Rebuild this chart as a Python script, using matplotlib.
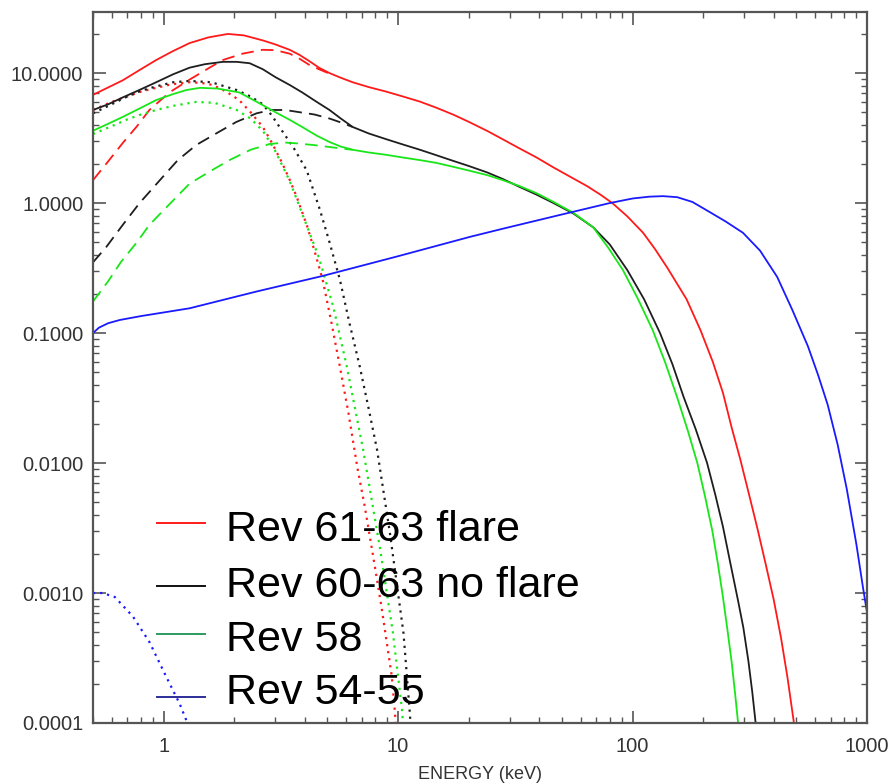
import matplotlib
matplotlib.use("Agg")
import matplotlib.pyplot as plt
from matplotlib.lines import Line2D
from matplotlib.ticker import FixedLocator, NullFormatter, LogLocator

plt.rcParams['font.family'] = ['Liberation Sans', 'DejaVu Sans']

# ---- model spectra (energy in keV, flux) ----
# Rev 61-63 flare: total, comptonised component, disk component
red_tot_e = [0.5, 0.67, 0.8, 0.93, 1.1, 1.29, 1.55, 1.88, 2.2, 2.66, 3.0, 3.45, 3.8, 4.2, 4.6, 5.1, 5.7, 6.4,
             7.5, 8.9, 10.5, 12.4, 14.5, 17.2, 20, 24, 28, 33, 39, 46, 54, 64, 73, 82, 95, 111, 125, 141,
             170, 195, 220, 243, 265, 288, 315, 340, 370, 400, 430, 458, 488, 510]
red_tot_f = [6.8, 8.8, 10.7, 12.6, 14.8, 17.0, 18.8, 20.0, 19.5, 17.8, 16.6, 15.1, 13.8, 12.3, 11.0, 10.0,
             9.2, 8.5, 7.8, 7.2, 6.6, 6.03, 5.43, 4.79, 4.22, 3.59, 3.09, 2.63, 2.24, 1.88, 1.60, 1.35,
             1.16, 1.0, 0.79, 0.59, 0.44, 0.316, 0.182, 0.105, 0.060, 0.0347, 0.0186, 0.0107, 0.0056,
             0.0032, 0.00166, 8.9e-4, 4.5e-4, 2.24e-4, 1.0e-4, 5e-5]
red_comp_e = [0.5, 0.58, 0.67, 0.77, 0.87, 1.06, 1.29, 1.57, 1.79, 2.17, 2.65, 3.0, 3.45, 3.8, 4.2, 4.6, 5.1]
red_comp_f = [1.5, 2.09, 2.9, 3.9, 5.2, 7.1, 8.9, 11.0, 12.6, 14.1, 15.1, 15.0, 14.1, 12.9, 11.5, 10.7, 9.9]
red_disk_e = [0.5, 0.6, 0.7, 0.8, 0.93, 1.05, 1.14, 1.29, 1.45, 1.62, 1.85, 2.1, 2.35, 2.65, 2.9, 3.2, 3.45,
              3.7, 4.1, 4.4, 4.77, 5.2, 5.65, 6.15, 6.7, 7.2, 7.8, 8.5, 9.0, 9.4, 9.7, 9.9]
red_disk_f = [5.2, 6.0, 6.6, 7.2, 7.7, 8.1, 8.3, 8.5, 8.4, 8.1, 7.2, 6.2, 5.0, 3.85, 2.9, 2.04, 1.51, 1.11,
              0.66, 0.43, 0.257, 0.12, 0.055, 0.024, 0.0093, 0.0047, 0.0020, 7.8e-4, 3.9e-4, 2.3e-4,
              1.2e-4, 7e-5]

# Rev 60-63 no flare
blk_tot_e = [0.5, 0.58, 0.67, 0.8, 0.93, 1.1, 1.29, 1.5, 1.79, 2.05, 2.33, 2.65, 3.0, 3.45, 3.9, 4.5, 5.1,
             5.7, 6.4, 7.5, 8.9, 10.5, 12.4, 14.5, 17.2, 20, 24, 28, 33, 39, 46, 56, 68, 80, 95, 112, 131,
             148, 165, 186, 208, 226, 243, 262, 282, 297, 312, 324, 335, 350]
blk_tot_f = [5.2, 5.75, 6.5, 7.5, 8.5, 9.8, 11.0, 11.7, 12.2, 12.2, 11.9, 10.7, 9.3, 8.1, 7.1, 6.0, 5.2,
             4.47, 3.85, 3.43, 3.1, 2.82, 2.57, 2.34, 2.11, 1.93, 1.72, 1.53, 1.33, 1.16, 1.0, 0.83, 0.65,
             0.48, 0.305, 0.182, 0.10, 0.0575, 0.0324, 0.0182, 0.010, 0.0056, 0.00324, 0.00166, 8.7e-4,
             5.4e-4, 3.0e-4, 1.74e-4, 1.0e-4, 5e-5]
blk_comp_e = [0.5, 0.57, 0.67, 0.79, 0.98, 1.15, 1.38, 1.68, 2.04, 2.49, 2.88, 3.3, 3.8, 4.4, 5.1, 5.7, 6.4]
blk_comp_f = [0.35, 0.46, 0.68, 1.0, 1.55, 2.14, 2.8, 3.44, 4.2, 4.9, 5.2, 5.2, 5.0, 4.8, 4.47, 4.17, 3.85]
blk_disk_e = [0.5, 0.6, 0.7, 0.8, 0.93, 1.1, 1.29, 1.6, 2.05, 2.35, 2.65, 2.9, 3.2, 3.6, 4.08, 4.64, 5.1,
              5.65, 6.2, 6.87, 7.5, 8.14, 9.23, 10.55, 11.2, 11.5]
blk_disk_f = [4.9, 5.75, 6.6, 7.3, 7.9, 8.5, 8.7, 8.5, 7.4, 6.6, 5.75, 4.7, 3.6, 2.63, 1.78, 0.89, 0.50,
              0.257, 0.12, 0.055, 0.026, 0.0126, 0.0029, 4.9e-4, 1.26e-4, 6.3e-5]

# Rev 58
grn_tot_e = [0.5, 0.58, 0.67, 0.8, 0.93, 1.1, 1.25, 1.43, 1.7, 2.1, 2.5, 3.0, 3.45, 3.9, 4.5, 5.1, 5.7, 6.4,
             7.5, 8.9, 10.5, 12.4, 14.5, 17.2, 20, 24, 28, 33, 39, 46, 56, 68, 79, 91, 105, 122, 138, 155,
             172, 189, 204, 219, 231, 243, 254, 265, 274, 282, 295]
grn_tot_f = [3.6, 4.07, 4.6, 5.4, 6.2, 6.9, 7.4, 7.7, 7.6, 7.1, 6.0, 5.0, 4.37, 3.85, 3.3, 2.95, 2.72,
             2.57, 2.45, 2.35, 2.24, 2.14, 2.04, 1.9, 1.78, 1.64, 1.50, 1.35, 1.19, 1.02, 0.84, 0.65, 0.45,
             0.305, 0.186, 0.105, 0.059, 0.032, 0.0178, 0.010, 0.0055, 0.0030, 0.0017, 9.3e-4, 5.2e-4,
             2.9e-4, 1.66e-4, 1.0e-4, 5e-5]
grn_comp_e = [0.5, 0.58, 0.66, 0.77, 0.87, 1.03, 1.29, 1.6, 1.91, 2.35, 2.84, 3.3, 3.69, 4.4, 5.1, 5.7, 6.4]
grn_comp_f = [0.175, 0.25, 0.355, 0.50, 0.68, 0.93, 1.41, 1.78, 2.14, 2.57, 2.85, 2.92, 2.88, 2.79, 2.7,
              2.63, 2.57]
grn_disk_e = [0.5, 0.6, 0.7, 0.8, 0.93, 1.1, 1.38, 1.65, 2.05, 2.35, 2.65, 3.0, 3.45, 3.9, 4.6, 5.3, 6.05,
              7.1, 8.4, 9.5, 10.4, 10.7]
grn_disk_f = [3.4, 3.9, 4.4, 4.8, 5.2, 5.6, 6.0, 5.9, 5.2, 4.47, 3.6, 2.5, 1.48, 0.83, 0.38, 0.158, 0.055,
              0.0126, 0.00214, 5e-4, 1.26e-4, 6.3e-5]

# Rev 54-55
blu_tot_e = [0.5, 0.53, 0.58, 0.65, 0.8, 0.93, 1.29, 2.5, 4.77, 10, 20.3, 28, 49, 80, 100, 118, 135, 155,
             180, 214, 250, 296, 350, 414, 480, 560, 620, 680, 750, 820, 900, 960, 1000]
blu_tot_f = [0.10, 0.11, 0.119, 0.126, 0.135, 0.141, 0.155, 0.209, 0.275, 0.39, 0.55, 0.635, 0.81, 1.0,
             1.084, 1.12, 1.13, 1.11, 1.02, 0.85, 0.72, 0.59, 0.43, 0.27, 0.151, 0.079, 0.047, 0.028,
             0.0138, 0.0063, 0.0024, 0.00112, 7.1e-4]
blu_disk_e = [0.5, 0.55, 0.62, 0.74, 0.87, 1.03, 1.17, 1.25, 1.3]
blu_disk_f = [1.0e-3, 1.0e-3, 9.3e-4, 6.6e-4, 4.2e-4, 2.24e-4, 1.41e-4, 1.05e-4, 8.5e-5]

legend_labels = ["Rev 61-63 flare", "Rev 60-63 no flare", "Rev 58", "Rev 54-55"]
xtick_vals = [1, 10, 100, 1000]
xtick_text = ["1", "10", "100", "1000"]
ytick_vals = [1e-4, 1e-3, 1e-2, 1e-1, 1, 10]
ytick_text = ["0.0001", "0.0010", "0.0100", "0.1000", "1.0000", "10.0000"]

RED, BLK, GRN, BLU = "#ff1a1a", "#1e1e1e", "#19e619", "#1a1aff"
LW = 1.3
DOT = (0, (1.0, 2.2))
DASH = (0, (7, 4))

fig = plt.figure(figsize=(8.95, 7.83), dpi=100)
ax = fig.add_axes([93 / 895, 60 / 783, 774 / 895, 711 / 783])

series = [
    (red_tot_e, red_tot_f, RED, '-'), (red_comp_e, red_comp_f, RED, DASH), (red_disk_e, red_disk_f, RED, DOT),
    (blk_tot_e, blk_tot_f, BLK, '-'), (blk_comp_e, blk_comp_f, BLK, DASH), (blk_disk_e, blk_disk_f, BLK, DOT),
    (grn_tot_e, grn_tot_f, GRN, '-'), (grn_comp_e, grn_comp_f, GRN, DASH), (grn_disk_e, grn_disk_f, GRN, DOT),
    (blu_tot_e, blu_tot_f, BLU, '-'), (blu_disk_e, blu_disk_f, BLU, DOT),
]
for e, f, c, ls in series:
    lw = LW + 0.3 if ls is DOT else LW
    ax.plot(e, f, color=c, ls=ls, lw=lw, solid_joinstyle='round', dash_capstyle='butt')

ax.set_xscale('log')
ax.set_yscale('log')
ax.set_xlim(0.5, 1000)
ax.set_ylim(1e-4, 29.5)

axis_grey = "#555555"
for sp in ax.spines.values():
    sp.set_color(axis_grey)
    sp.set_linewidth(1.6)

ax.xaxis.set_major_locator(FixedLocator(xtick_vals))
ax.set_xticklabels(xtick_text)
ax.yaxis.set_major_locator(FixedLocator(ytick_vals))
ax.set_yticklabels(ytick_text)
ax.xaxis.set_minor_locator(LogLocator(base=10, subs=range(2, 10), numticks=20))
ax.yaxis.set_minor_locator(LogLocator(base=10, subs=range(2, 10), numticks=20))
ax.xaxis.set_minor_formatter(NullFormatter())
ax.yaxis.set_minor_formatter(NullFormatter())

ax.tick_params(which='both', direction='in', top=True, right=True, color=axis_grey)
ax.tick_params(which='major', length=9, width=1.2, labelsize=14.5, labelcolor="#333333")
ax.tick_params(axis='y', which='major', pad=7)
ax.tick_params(axis='x', which='major', pad=10)
ax.tick_params(which='minor', length=4.5, width=1.0)

ax.set_xlabel("ENERGY (keV)", fontsize=13, color="#333333", labelpad=7)

# legend drawn in axes coordinates
def ypix(py):
    return (723 - py) / 711

leg_colors = ["#ff1a1a", "#101010", "#2e9a5e", "#2d2d99"]
line_y = [523, 586, 634, 697]
text_y = [530, 586, 640, 693]
for lab, col, ly, ty in zip(legend_labels, leg_colors, line_y, text_y):
    ax.add_line(Line2D([(157 - 93) / 774, (205 - 93) / 774], [ypix(ly), ypix(ly)],
                       transform=ax.transAxes, color=col, lw=1.4))
    ax.text((226 - 93) / 774, ypix(ty), lab, transform=ax.transAxes, fontsize=31,
            va='center', ha='left', color='black')

fig.savefig("out.png", dpi=100)
